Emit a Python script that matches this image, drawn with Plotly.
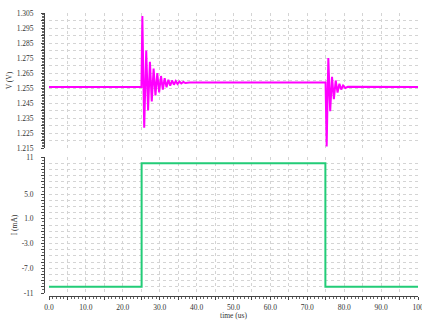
import plotly.graph_objects as go

# ---- data ----
v_time = [0.0, 25.05, 25.3, 25.8, 26.35, 26.85, 27.35, 27.85, 28.35, 28.85, 29.35, 29.85,
          30.35, 30.85, 31.35, 31.85, 32.35, 32.85, 33.35, 33.85, 34.35, 34.85, 35.35,
          35.85, 36.4, 37.0, 38.0,
          74.95, 75.25, 75.7, 76.2, 76.7, 77.2, 77.7, 78.2, 78.7, 79.2, 79.7, 80.3, 81.0, 100.0]
v_volt = [1.2557, 1.2557, 1.3030, 1.2285, 1.2800, 1.2400, 1.2725, 1.2460, 1.2680, 1.2500,
          1.2650, 1.2520, 1.2630, 1.2540, 1.2615, 1.2555, 1.2605, 1.2565, 1.2600, 1.2572,
          1.2596, 1.2577, 1.2593, 1.2580, 1.2590, 1.2583, 1.2586,
          1.2586, 1.2160, 1.2750, 1.2395, 1.2625, 1.2475, 1.2600, 1.2520, 1.2578, 1.2540,
          1.2566, 1.2550, 1.2558, 1.2557, 1.2557]

i_time = [0.0, 25.1, 74.9, 100.0]
i_ma = [-10.0, 10.0, -10.0, -10.0]

x_tickvals = [0, 5, 10, 15, 20, 25, 30, 35, 40, 45, 50, 55, 60, 65, 70, 75, 80, 85, 90, 95, 100]
x_ticktext = ["0.0", "", "10.0", "", "20.0", "", "30.0", "", "40.0", "", "50.0", "", "60.0", "",
              "70.0", "", "80.0", "", "90.0", "", "100"]

v_tickvals = [1.215, 1.22, 1.225, 1.23, 1.235, 1.24, 1.245, 1.25, 1.255, 1.26, 1.265, 1.27,
              1.275, 1.28, 1.285, 1.29, 1.295, 1.30, 1.305]
v_ticktext = ["1.215", "", "1.225", "", "1.235", "", "1.245", "", "1.255", "", "1.265", "",
              "1.275", "", "1.285", "", "1.295", "", "1.305"]

i_tickvals = list(range(-11, 12))
i_labels = {-11: "-11", -7: "-7.0", -3: "-3.0", 1: "1.0", 5: "5.0", 11: "11"}
i_ticktext = [i_labels.get(v, "") for v in i_tickvals]

W, H = 422, 320
def fx(px): return px / W
def fy(py): return 1 - py / H

FONT = dict(family="Liberation Serif", size=7.5, color="#333333")
GRID = dict(showgrid=True, gridcolor="#d4d4d4", griddash="dot", gridwidth=1)

fig = go.Figure()
fig.add_trace(go.Scatter(x=v_time, y=v_volt, mode="lines", xaxis="x", yaxis="y",
                         line=dict(color="#ff00ff", width=2), showlegend=False))
fig.add_trace(go.Scatter(x=i_time, y=i_ma, mode="lines", xaxis="x2", yaxis="y2",
                         line=dict(color="#22cc77", width=2, shape="hv"), showlegend=False))

xdom = [fx(49), fx(418)]
fig.update_layout(
    width=W, height=H, margin=dict(l=0, r=0, t=0, b=0, autoexpand=False),
    paper_bgcolor="white", plot_bgcolor="white", font=FONT,
    xaxis=dict(domain=xdom, range=[0, 100], anchor="y", tickvals=x_tickvals, automargin=False,
               showticklabels=False, ticks="", showline=False, zeroline=False, **GRID),
    yaxis=dict(domain=[fy(148), fy(13)], range=[1.215, 1.305], anchor="free", position=fx(44),
               tickvals=v_tickvals, ticktext=v_ticktext, ticks="outside", ticklen=3,
               tickcolor="#444", showline=True, linecolor="#444", linewidth=1,
               ticklabelstandoff=6, zeroline=False, automargin=False, ticklabeloverflow="allow",
               minor=dict(ticks="outside", ticklen=2, dtick=0.001, tick0=1.215, tickcolor="#666", showgrid=False),
               title=dict(text="V (V)", font=FONT, standoff=2), **GRID),
    xaxis2=dict(domain=xdom, range=[0, 100], anchor="free", position=fy(296),
                tickvals=x_tickvals, ticktext=x_ticktext, ticks="outside", ticklen=3,
                tickcolor="#444", showline=True, linecolor="#444", linewidth=1, zeroline=False,
                automargin=False, ticklabeloverflow="allow", ticklabelstandoff=1,
                minor=dict(ticks="outside", ticklen=2, dtick=1, tickcolor="#666", showgrid=False),
                title=dict(text="time (us)", font=FONT, standoff=2), **GRID),
    yaxis2=dict(domain=[fy(293), fy(157)], range=[-11, 11], anchor="free", position=fx(44),
                tickvals=i_tickvals, ticktext=i_ticktext, ticks="outside", ticklen=3,
                tickcolor="#444", showline=True, linecolor="#444", linewidth=1,
                ticklabelstandoff=6, zeroline=False, automargin=False, ticklabeloverflow="allow",
                minor=dict(ticks="outside", ticklen=2, dtick=0.5, tickcolor="#666", showgrid=False),
                title=dict(text="I (mA)", font=FONT, standoff=2), **GRID),
)

fig.write_html("out.html", config={"displayModeBar": False},
               post_script="document.body.style.margin='0';")
